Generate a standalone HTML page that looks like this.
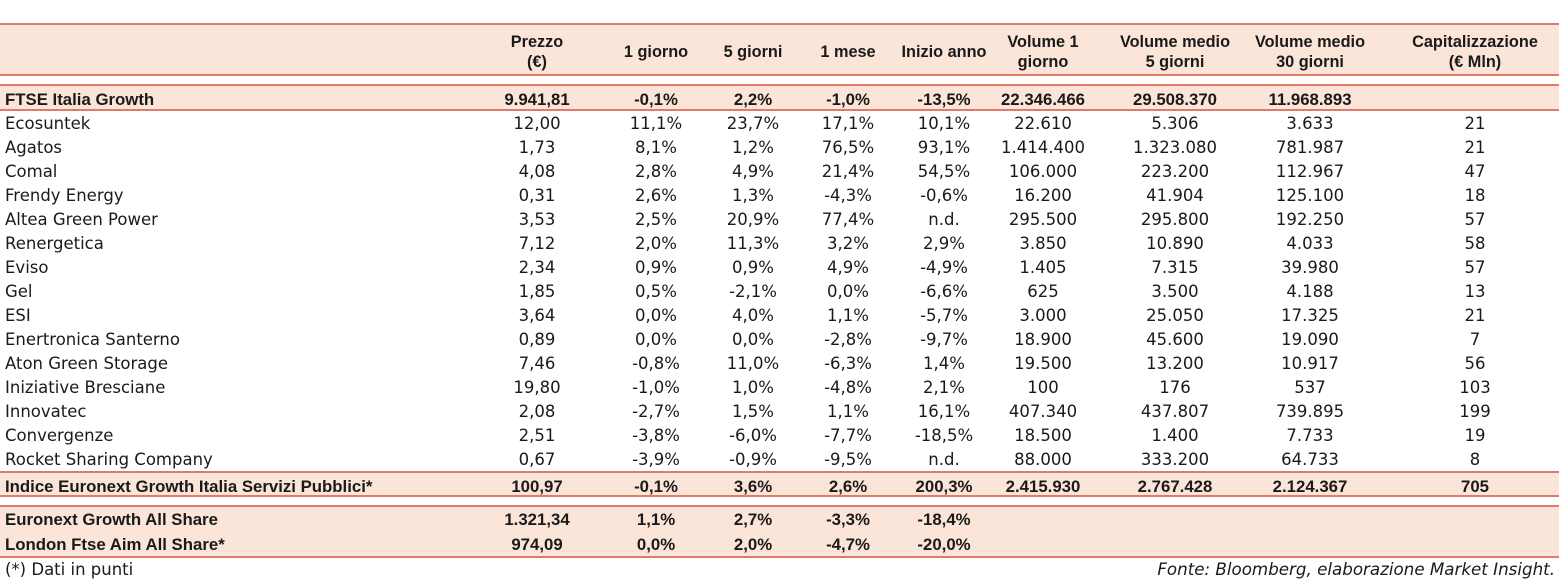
<!DOCTYPE html>
<html><head><meta charset="utf-8">
<style>
body{margin:0;width:1561px;height:581px;background:#fff;position:relative;overflow:hidden;font-family:"DejaVu Sans","Liberation Sans",sans-serif;color:#1a1a1a}
.band{position:absolute;left:0;width:1559px;background:#fbe5d8}
.ln{position:absolute;left:0;width:1559px;height:2px;background:#e07a6a}
.c{position:absolute;white-space:nowrap;font-size:16.5px;line-height:18px;transform:translateX(-50%);text-align:center}
.l{position:absolute;white-space:nowrap;font-size:16.5px;line-height:18px;left:5px}
.b{font-weight:bold;font-size:16.8px;font-family:"Liberation Sans",sans-serif}
.h{font-weight:bold;font-size:16.3px;line-height:20px;font-family:"Liberation Sans",sans-serif}
</style></head><body>
<div class="band" style="top:24px;height:51px"></div>
<div class="band" style="top:85px;height:25px"></div>
<div class="band" style="top:472px;height:24px"></div>
<div class="band" style="top:506px;height:51px"></div>
<div class="ln" style="top:23px"></div><div class="ln" style="top:74px"></div>
<div class="ln" style="top:84px"></div><div class="ln" style="top:109px"></div>
<div class="ln" style="top:471px"></div><div class="ln" style="top:495px"></div>
<div class="ln" style="top:505px"></div><div class="ln" style="top:556px"></div>
<div class="l" style="top:561px">(*) Dati in punti</div>
<div style="position:absolute;right:6px;top:560px;font-size:16.7px;line-height:18px;font-style:italic">Fonte: Bloomberg, elaborazione Market Insight.</div>
<script>
const centers=[537,656,753,848,944,1043,1175,1310,1475];
const headers=[["Prezzo","(€)"],["1 giorno"],["5 giorni"],["1 mese"],["Inizio anno"],["Volume 1","giorno"],["Volume medio","5 giorni"],["Volume medio","30 giorni"],["Capitalizzazione","(€ Mln)"]];
const names=["FTSE Italia Growth","Ecosuntek","Agatos","Comal","Frendy Energy","Altea Green Power","Renergetica","Eviso","Gel","ESI","Enertronica Santerno","Aton Green Storage","Iniziative Bresciane","Innovatec","Convergenze","Rocket Sharing Company","Indice Euronext Growth Italia Servizi Pubblici*","Euronext Growth All Share","London Ftse Aim All Share*"];
const values=[
["9.941,81","-0,1%","2,2%","-1,0%","-13,5%","22.346.466","29.508.370","11.968.893",""],
["12,00","11,1%","23,7%","17,1%","10,1%","22.610","5.306","3.633","21"],
["1,73","8,1%","1,2%","76,5%","93,1%","1.414.400","1.323.080","781.987","21"],
["4,08","2,8%","4,9%","21,4%","54,5%","106.000","223.200","112.967","47"],
["0,31","2,6%","1,3%","-4,3%","-0,6%","16.200","41.904","125.100","18"],
["3,53","2,5%","20,9%","77,4%","n.d.","295.500","295.800","192.250","57"],
["7,12","2,0%","11,3%","3,2%","2,9%","3.850","10.890","4.033","58"],
["2,34","0,9%","0,9%","4,9%","-4,9%","1.405","7.315","39.980","57"],
["1,85","0,5%","-2,1%","0,0%","-6,6%","625","3.500","4.188","13"],
["3,64","0,0%","4,0%","1,1%","-5,7%","3.000","25.050","17.325","21"],
["0,89","0,0%","0,0%","-2,8%","-9,7%","18.900","45.600","19.090","7"],
["7,46","-0,8%","11,0%","-6,3%","1,4%","19.500","13.200","10.917","56"],
["19,80","-1,0%","1,0%","-4,8%","2,1%","100","176","537","103"],
["2,08","-2,7%","1,5%","1,1%","16,1%","407.340","437.807","739.895","199"],
["2,51","-3,8%","-6,0%","-7,7%","-18,5%","18.500","1.400","7.733","19"],
["0,67","-3,9%","-0,9%","-9,5%","n.d.","88.000","333.200","64.733","8"],
["100,97","-0,1%","3,6%","2,6%","200,3%","2.415.930","2.767.428","2.124.367","705"],
["1.321,34","1,1%","2,7%","-3,3%","-18,4%","","","",""],
["974,09","0,0%","2,0%","-4,7%","-20,0%","","","",""]];
const rowY=[100,124,148,172,196,220,244,268,292,316,340,364,388,412,436,460,487,520,545];
const boldRows=[0,16,17,18];
headers.forEach((h,i)=>{
  const d=document.createElement('div');
  d.className='c h';
  d.style.left=centers[i]+'px';
  d.style.top=(h.length==2?32:42)+'px';
  d.innerHTML=h.join('<br>');
  
  
  document.body.appendChild(d);
});
names.forEach((n,r)=>{
  const b=boldRows.includes(r);
  const d=document.createElement('div');
  d.className='l'+(b?' b':'');
  d.style.top=(rowY[r]-9)+'px';
  d.textContent=n;
  
  
  document.body.appendChild(d);
  values[r].forEach((v,i)=>{
    if(!v)return;
    const c=document.createElement('div');
    c.className='c'+(b?' b':'');
    c.style.left=centers[i]+'px';
    c.style.top=(rowY[r]-9)+'px';
    c.textContent=v;
    
    
    document.body.appendChild(c);
  });
});
</script>
</body></html>
